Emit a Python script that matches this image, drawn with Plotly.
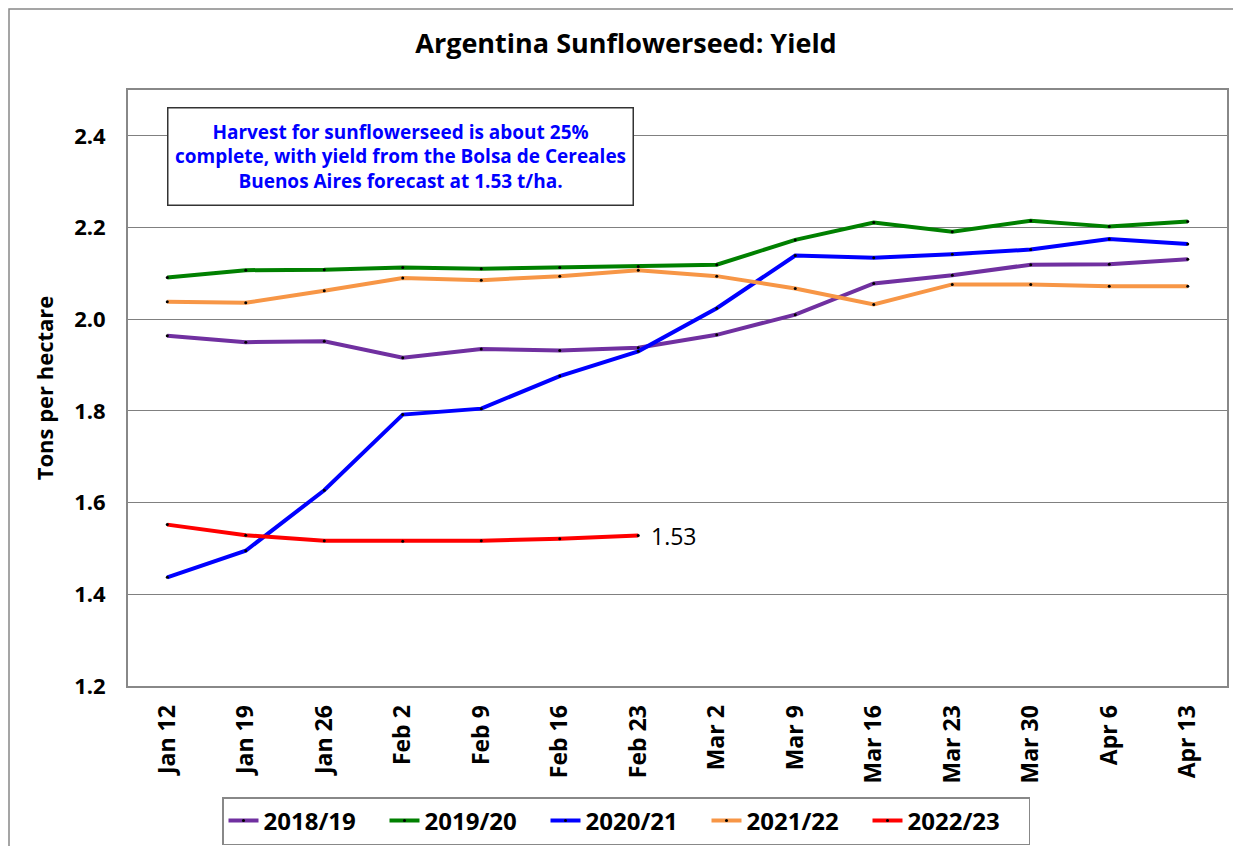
"""Argentina Sunflowerseed: Yield — weekly yield estimates by season."""

import plotly.graph_objects as go

# x 轴周次
weeks = ["Jan 12", "Jan 19", "Jan 26", "Feb 2", "Feb 9", "Feb 16", "Feb 23",
         "Mar 2", "Mar 9", "Mar 16", "Mar 23", "Mar 30", "Apr 6", "Apr 13"]

# 各季单产 (t/ha)
y2018_19 = [1.964, 1.950, 1.952, 1.916, 1.935, 1.932, 1.938,
            1.966, 2.010, 2.078, 2.096, 2.119, 2.120, 2.131]
y2019_20 = [2.091, 2.107, 2.108, 2.113, 2.110, 2.113, 2.115,
            2.119, 2.173, 2.211, 2.191, 2.215, 2.202, 2.213]
y2020_21 = [1.437, 1.495, 1.627, 1.792, 1.805, 1.876, 1.930,
            2.024, 2.139, 2.134, 2.142, 2.152, 2.175, 2.164]
y2021_22 = [2.038, 2.036, 2.062, 2.090, 2.085, 2.094, 2.107,
            2.094, 2.067, 2.032, 2.076, 2.076, 2.072, 2.072]
y2022_23 = [1.552, 1.529, 1.517, 1.516, 1.517, 1.521, 1.528]

series = [
    ("2018/19", y2018_19, "#7030A0"),
    ("2019/20", y2019_20, "#008000"),
    ("2020/21", y2020_21, "#0000FF"),
    ("2021/22", y2021_22, "#F79646"),
    ("2022/23", y2022_23, "#FF0000"),
]

FONT = "'Open Sans', Lato, sans-serif"

# 页面 body 自带 8px 边距，图尺寸相应缩小
W, H = 1233, 838
PX0, PY0, PW, PH = 128, 90, 1099, 596  # 屏幕上的绘图区


def px(x):
    return (x - PX0) / PW


def py(y):
    return (PY0 + PH - y) / PH


fig = go.Figure()
for name, vals, color in series:
    fig.add_trace(go.Scatter(
        x=weeks[:len(vals)], y=vals, name=name, mode="lines+markers",
        line=dict(color=color, width=4),
        marker=dict(color="black", size=3),
    ))

# 最新值标签
fig.add_annotation(x=weeks[len(y2022_23) - 1], y=y2022_23[-1], text="1.53",
                   xanchor="left", yanchor="middle", xshift=11, showarrow=False,
                   font=dict(family=FONT, size=23, color="black"))

# 说明框
fig.add_annotation(
    xref="paper", yref="paper", x=px(400), y=py(156),
    xanchor="center", yanchor="middle",
    text="Harvest for sunflowerseed is about 25%<br>complete, with yield from the Bolsa de Cereales"
         "<br>Buenos Aires forecast at 1.53 t/ha.",
    showarrow=False, align="center",
    font=dict(family=FONT, size=19, color="#0000FF", weight="bold"),
    bordercolor="#333333", borderwidth=1.5, borderpad=3, bgcolor="white",
    width=458, height=90,
)

# 外框
fig.add_shape(type="rect", xref="paper", yref="paper",
              x0=px(9), x1=px(1260), y0=py(870), y1=py(9),
              line=dict(color="#888888", width=1.5), layer="below")

fig.update_layout(
    width=W, height=H,
    margin=dict(l=PX0 - 8, r=W - (PX0 - 8) - PW, t=PY0 - 8, b=H - (PY0 - 8) - PH,
                autoexpand=False),
    paper_bgcolor="white", plot_bgcolor="white",
    title=dict(text="Argentina Sunflowerseed: Yield", x=(626 - 8) / W, xanchor="center",
               y=1 - (44 - 8) / H, yanchor="middle",
               font=dict(family=FONT, size=27, color="black", weight="bold")),
    font=dict(family=FONT, color="black"),
    showlegend=True,
    legend=dict(orientation="h", xanchor="left", yanchor="top",
                x=px(222), y=py(797),
                bordercolor="#888888", borderwidth=1.5,
                font=dict(family=FONT, size=24, color="black", weight="bold"),
                itemwidth=30, entrywidth=116, tracegroupgap=0),
)

fig.update_xaxes(
    type="category", range=[-0.5, 13.5], tickangle=-90,
    tickfont=dict(family=FONT, size=23, color="black", weight="bold"),
    showgrid=False, showline=True, linecolor="#888888", linewidth=2, mirror=True,
    ticks="", ticklabelstandoff=8,
)
fig.update_yaxes(
    range=[1.2, 2.5], tick0=1.2, dtick=0.2, tickformat=".1f",
    tickfont=dict(family=FONT, size=22, color="black", weight="bold"),
    title=dict(text="Tons per hectare", standoff=14,
               font=dict(family=FONT, size=22, color="black", weight="bold")),
    showgrid=True, gridcolor="#808080", gridwidth=1,
    showline=True, linecolor="#888888", linewidth=2, mirror=True,
    ticks="", ticklabelstandoff=16, zeroline=False,
)

fig.write_html("out.html")
